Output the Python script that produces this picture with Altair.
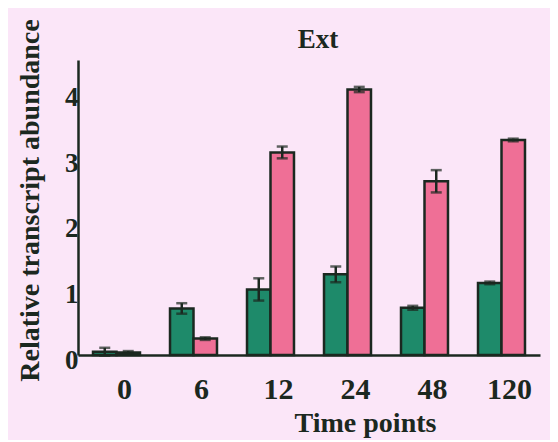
import altair as alt
import pandas as pd

time_points = ["0", "6", "12", "24", "48", "120"]
series = ["A", "B"]
green_vals = [0.05, 0.71, 1.00, 1.23, 0.72, 1.10]
green_err = [0.06, 0.08, 0.17, 0.12, 0.03, 0.02]
pink_vals = [0.04, 0.25, 3.09, 4.05, 2.65, 3.28]
pink_err = [0.02, 0.02, 0.09, 0.04, 0.17, 0.02]
chart_title = "Ext"

rows = []
for i, t in enumerate(time_points):
    rows.append({"time": t, "series": "A", "value": green_vals[i],
                 "lo": green_vals[i] - green_err[i], "hi": green_vals[i] + green_err[i]})
    rows.append({"time": t, "series": "B", "value": pink_vals[i],
                 "lo": pink_vals[i] - pink_err[i], "hi": pink_vals[i] + pink_err[i]})
df = pd.DataFrame(rows)

ink = "#1b2820"
font = "Liberation Serif"

x = alt.X("time:N", sort=time_points,
          scale=alt.Scale(paddingInner=0.39, paddingOuter=0.195),
          axis=alt.Axis(title="Time points", labelAngle=0, labelFont=font, labelFontSize=30,
                        labelFontWeight="bold", labelColor=ink, labelPadding=19, labelOffset=8,
                        ticks=False, domainColor=ink, domainWidth=2.5,
                        titleFont=font, titleFontSize=28, titleFontWeight="bold", titleColor=ink,
                        titleX=287, titlePadding=5))
xo = alt.XOffset("series:N", sort=series)
y = alt.Y("value:Q", scale=alt.Scale(domain=[0, 4.5], nice=False),
          axis=alt.Axis(title="Relative transcript abundance", values=[0, 1, 2, 3, 4], format="d",
                        grid=False, ticks=False, labelFont=font, labelFontSize=27,
                        labelFontWeight="bold", labelOffset=5,
                        labelColor=ink, labelPadding=0, domainColor=ink, domainWidth=2.5,
                        titleFont=font, titleFontSize=28, titleFontWeight="bold", titleColor=ink,
                        titleY=140, titlePadding=20))

bars = alt.Chart(df).mark_bar(stroke=ink, strokeWidth=2.5).encode(
    x=x, xOffset=xo, y=y,
    color=alt.Color("series:N", scale=alt.Scale(domain=series, range=["#1e8a6a", "#ef6f96"]), legend=None),
)
rules = alt.Chart(df).mark_rule(color=ink, strokeWidth=2.5).encode(
    x=alt.X("time:N", sort=time_points), xOffset=xo, y="lo:Q", y2="hi:Q")
cap_hi = alt.Chart(df).mark_tick(color=ink, thickness=2.5, size=11, orient="horizontal").encode(
    x=alt.X("time:N", sort=time_points), xOffset=xo, y="hi:Q")
cap_lo = alt.Chart(df).mark_tick(color=ink, thickness=2.5, size=11, orient="horizontal").encode(
    x=alt.X("time:N", sort=time_points), xOffset=xo, y="lo:Q")
title_mark = alt.Chart(pd.DataFrame({"t": [chart_title]})).mark_text(
    font=font, fontSize=27, fontWeight="bold", color=ink, align="center", baseline="middle"
).encode(text="t:N", x=alt.value(240), y=alt.value(-20))

chart = alt.layer(bars, rules, cap_hi, cap_lo, title_mark).properties(
    width=462, height=295,
    autosize=alt.AutoSizeParams(type="none"),
    padding={"left": 70, "top": 52, "right": 10, "bottom": 85},
    background="#fbe6f8",
).configure_view(stroke=None)

chart.save("out.html", embed_options={"renderer": "svg", "actions": False})
